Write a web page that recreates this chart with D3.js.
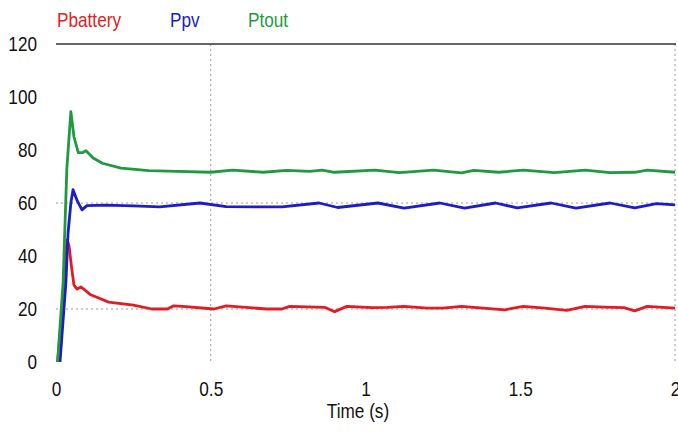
<!DOCTYPE html>
<html>
<head>
<meta charset="utf-8">
<script src="https://cdn.jsdelivr.net/npm/d3@7"></script>
<style>
  body { margin: 0; background: #fff; }
  text { font-family: "Liberation Sans", Arial, sans-serif; }
  .grid line { stroke: #9a9a9a; stroke-width: 1; stroke-dasharray: 2,3; }
  .series { fill: none; stroke-width: 2.8; stroke-linejoin: round; }
</style>
</head>
<body>
<div class="chart"></div>
<script>

// data
const yTicks = [0, 20, 40, 60, 80, 100, 120];
const xTicks = [0, 0.5, 1, 1.5, 2];

const tBattery = [0.005, 0.02, 0.03, 0.036, 0.042, 0.05, 0.058, 0.068, 0.08, 0.09, 0.11, 0.13, 0.17, 0.25, 0.31, 0.36, 0.38, 0.42, 0.51, 0.55, 0.68, 0.73, 0.755, 0.87, 0.9, 0.94, 1.02, 1.07, 1.125, 1.2, 1.25, 1.31, 1.36, 1.45, 1.51, 1.58, 1.65, 1.71, 1.77, 1.835, 1.87, 1.91, 2.0];
const pBattery = [0, 20, 40, 46, 44, 36, 29, 27.5, 28.3, 27.5, 25.5, 24.5, 22.6, 21.5, 20, 20, 21.2, 20.9, 20, 21.2, 20, 20, 21, 20.6, 19, 21, 20.5, 20.6, 21, 20.3, 20.3, 21, 20.5, 19.7, 21, 20.3, 19.5, 21, 20.7, 20.5, 19.3, 21, 20.3];

const tPv = [0.013, 0.032, 0.039, 0.048, 0.055, 0.068, 0.084, 0.1, 0.16, 0.25, 0.335, 0.465, 0.55, 0.73, 0.85, 0.91, 1.04, 1.125, 1.24, 1.32, 1.42, 1.49, 1.6, 1.68, 1.79, 1.87, 1.94, 2.0];
const pPv = [0, 30, 48.7, 60, 65, 61, 57.4, 59, 59.2, 58.9, 58.5, 60, 58.6, 58.5, 60, 58.3, 60, 58.1, 60, 58.1, 60, 58.2, 60, 58.1, 60, 58.2, 59.8, 59.3];

const tTout = [0.005, 0.023, 0.035, 0.048, 0.058, 0.072, 0.085, 0.097, 0.12, 0.15, 0.21, 0.3, 0.36, 0.5, 0.57, 0.67, 0.745, 0.82, 0.86, 0.9, 1.03, 1.11, 1.22, 1.31, 1.35, 1.43, 1.51, 1.61, 1.71, 1.79, 1.87, 1.91, 2.0];
const pTout = [0, 30, 73, 94.5, 85, 79, 79, 79.7, 77, 75, 73.2, 72.2, 72, 71.6, 72.4, 71.6, 72.3, 71.9, 72.4, 71.6, 72.4, 71.5, 72.4, 71.4, 72.3, 71.6, 72.4, 71.5, 72.4, 71.5, 71.6, 72.4, 71.6];

const series = [
  { name: "Pbattery", color: "#e31b23", t: tBattery, p: pBattery, lx: 57 },
  { name: "Ppv", color: "#1c1cc8", t: tPv, p: pPv, lx: 170 },
  { name: "Ptout", color: "#1f9a3e", t: tTout, p: pTout, lx: 248 }
];

const width = 678;
const height = 432;
const fontSize = 20;
const squeeze = 0.86; // the reference text is narrow and tall

const x = d3.scaleLinear().domain([0, 2]).range([56, 675]);
const y = d3.scaleLinear().domain([0, 120]).range([362, 44]);

const svg = d3.select(".chart")
  .append("svg")
    .attr("width", width)
    .attr("height", height);

// dotted grid
const grid = svg.append("g").attr("class", "grid");
grid.selectAll(".hg")
  .data([20, 60]).enter()
  .append("line")
    .attr("x1", x(0)).attr("x2", x(2))
    .attr("y1", (d) => y(d)).attr("y2", (d) => y(d));
grid.selectAll(".vg")
  .data([0.5, 2]).enter()
  .append("line")
    .attr("x1", (d) => x(d)).attr("x2", (d) => x(d))
    .attr("y1", y(120)).attr("y2", y(0));

// top border
svg.append("line")
  .attr("x1", x(0)).attr("x2", x(2) + 1)
  .attr("y1", y(120)).attr("y2", y(120))
  .attr("stroke", "#333")
  .attr("stroke-width", 1.5);

// axes
svg.append("g")
  .attr("class", "y-axis")
  .attr("transform", `translate(${x(0)},0)`)
  .call(d3.axisLeft(y).tickValues(yTicks).tickSize(0).tickPadding(19 / squeeze));
svg.append("g")
  .attr("class", "x-axis")
  .attr("transform", `translate(0,${y(0)})`)
  .call(d3.axisBottom(x).tickValues(xTicks).tickSize(0).tickPadding(20).tickFormat(d3.format("~g")));

svg.selectAll(".domain").remove();
svg.selectAll(".tick text")
  .attr("font-size", fontSize)
  .attr("font-family", "Liberation Sans, Arial, sans-serif")
  .attr("fill", "#111")
  .attr("transform", `scale(${squeeze},1)`);

svg.append("text")
  .attr("transform", `scale(${squeeze},1)`)
  .attr("x", 358 / squeeze)
  .attr("y", 418)
  .attr("text-anchor", "middle")
  .attr("font-size", fontSize)
  .attr("fill", "#111")
  .text("Time (s)");

// lines
const line = d3.line()
  .x((d) => x(d[0]))
  .y((d) => y(d[1]));

svg.selectAll(".series")
  .data(series).enter()
  .append("path")
    .attr("class", "series")
    .attr("stroke", (d) => d.color)
    .attr("d", (d) => line(d3.zip(d.t, d.p)));

// legend
svg.append("g")
  .attr("transform", `scale(${squeeze},1)`)
  .selectAll(".legend")
    .data(series).enter()
  .append("text")
    .attr("class", "legend")
    .attr("x", (d) => d.lx / squeeze)
    .attr("y", 27)
    .attr("font-size", fontSize)
    .attr("fill", (d) => d.color)
    .text((d) => d.name);

</script>
</body>
</html>
